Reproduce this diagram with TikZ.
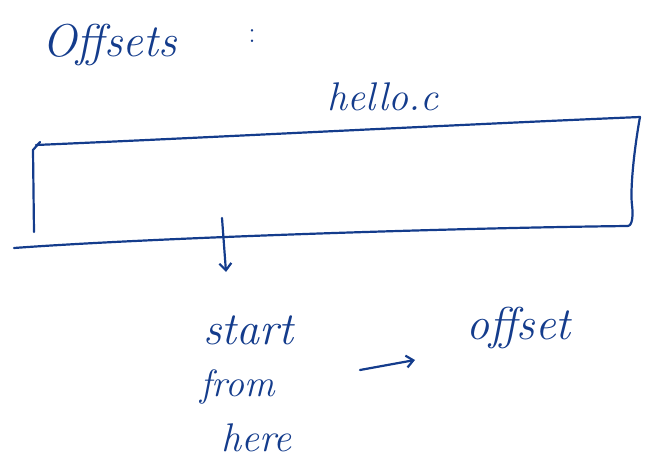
\documentclass[tikz,border=0pt]{standalone}
\usetikzlibrary{arrows.meta}
\definecolor{ink}{RGB}{20,60,140}
\begin{document}
\begin{tikzpicture}[x=1pt,y=-1pt,
  inkline/.style={draw=ink,line width=2.2pt,line cap=round,line join=round},
  hand/.style={text=ink,font=\itshape,inner sep=0pt}]
\useasboundingbox (0,0) rectangle (646,465);
% title
\node[hand,font=\itshape\fontsize{46}{48}\selectfont,anchor=west] (title) at (42,45) {Offsets};
\node[hand,font=\fontsize{30}{32}\selectfont] (colon) at (252,36) {:};
\node[hand,font=\itshape\fontsize{40}{42}\selectfont] (file) at (383,97) {hello.c};
% file box
\coordinate (tl) at (36,145);
\coordinate (tr) at (640,117);
\coordinate (bl) at (14,248);
\coordinate (br) at (628,226);
\draw[inkline] (tl) .. controls (200,138) and (450,125) .. (tr);
\draw[inkline] (40,142) -- (33,150) -- (34,232);
\draw[inkline] (tr) .. controls (634,150) and (630,190) .. (632,205) .. controls (634,222) and (630,226) .. (br);
\draw[inkline] (bl) .. controls (150,238) and (450,228) .. (br);
% down arrow
\coordinate (d1) at (222,218);
\coordinate (d2) at (226,272);
\draw[inkline,-{Straight Barb[length=7pt,width=12pt]}] (d1) -- (d2);
% start from here
\node[hand,font=\itshape\fontsize{46}{48}\selectfont,anchor=west] (start) at (203,330) {start};
\node[hand,font=\itshape\fontsize{38}{40}\selectfont,anchor=west] (from) at (200,387) {from};
\node[hand,font=\itshape\fontsize{40}{42}\selectfont,anchor=west] (here) at (221,438) {here};
% arrow to offset
\coordinate (a1) at (360,370);
\coordinate (a2) at (415,360);
\draw[inkline,-{Straight Barb[length=7pt,width=12pt]}] (a1) -- (a2);
\node[hand,font=\itshape\fontsize{46}{48}\selectfont,anchor=west] (offset) at (466,328) {offset};
\end{tikzpicture}
\end{document}
